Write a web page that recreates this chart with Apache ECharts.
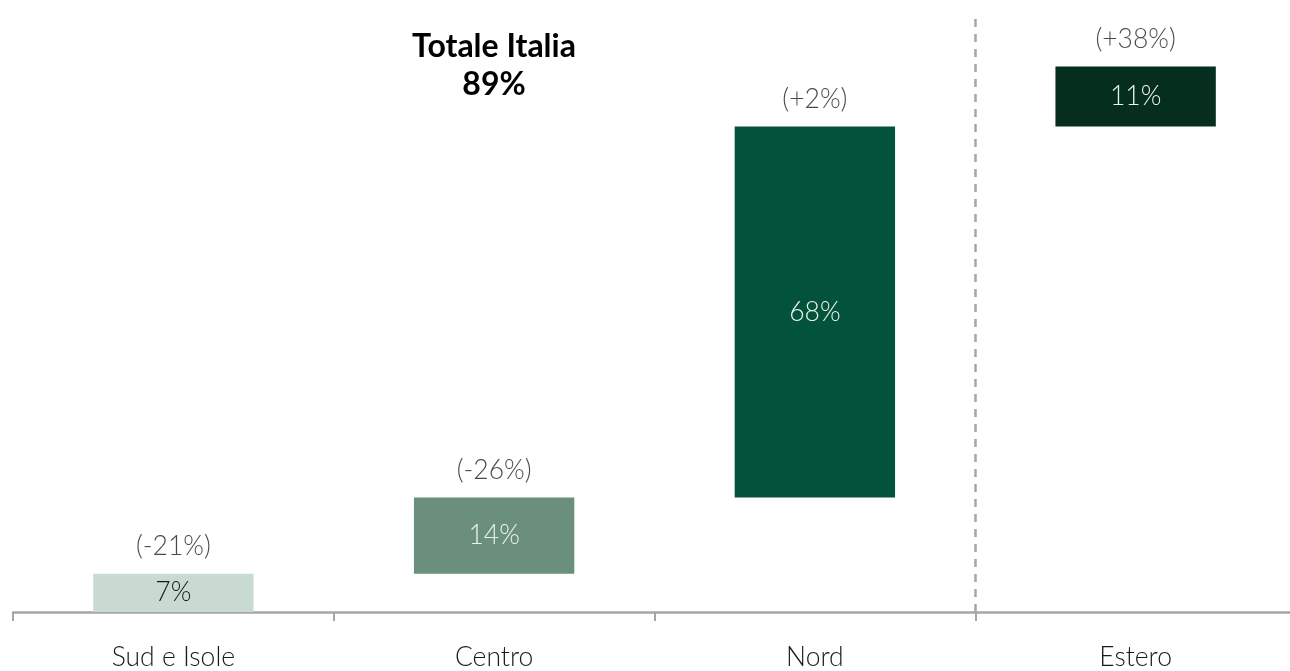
<!DOCTYPE html>
<html>
<head>
<meta charset="utf-8">
<script src="https://cdn.jsdelivr.net/npm/echarts@6/dist/echarts.min.js"></script>
<style>
  html, body { margin: 0; padding: 0; background: #fff; overflow: hidden; }
  #chart { width: 1296px; height: 671px; }
</style>
</head>
<body>
<div id="chart"></div>
<script>
// dati: quota per area, base cumulata e variazione
const categories = ['Sud e Isole', 'Centro', 'Nord', 'Estero'];
const shares = [7, 14, 68, 11];
const changes = ['(-21%)', '(-26%)', '(+2%)', '(+38%)'];
const barColors = ['#c9dad2', '#6a8f7c', '#03533b', '#052e1f'];
const insideTextColors = ['#1a1a1a', '#eef2ef', '#eef2ef', '#eef2ef'];
const totalLabel = ['Totale Italia', '89%'];
const separatorAt = 3; // confine tra Italia ed Estero (indice di banda)

// base invisibile della cascata
const bases = [];
let acc = 0;
shares.forEach(v => { bases.push(acc); acc += v; });
const tops = shares.map((v, i) => bases[i] + v);

const FONT = 'Lato';
const chart = echarts.init(document.getElementById('chart'));

const option = {
    backgroundColor: '#ffffff',
    animation: false,
    title: {
        text: totalLabel.join('\n'),
        left: 489, top: 23,
        textAlign: 'center',
        textStyle: { fontFamily: FONT, fontWeight: 'bold', fontSize: 32, lineHeight: 38, color: '#000' }
    },
    grid: { left: 13, right: 0, top: 12, bottom: 59 },
    xAxis: [
        {
            type: 'category',
            data: categories,
            axisLine: { lineStyle: { color: '#a6a6a6', width: 2.5 } },
            axisTick: { show: true, length: 9, lineStyle: { color: '#a6a6a6', width: 2 } },
            axisLabel: { fontFamily: FONT, fontWeight: 300, fontSize: 26.5, color: '#1a1a1a', margin: 32 },
            splitLine: { show: false }
        },
        // asse nascosto per posizionare il separatore tra le bande
        { type: 'value', min: 0, max: categories.length, show: false }
    ],
    yAxis: { type: 'value', min: 0, max: 110, show: false },
    series: [
        {
            type: 'bar', stack: 'w', barWidth: '50%',
            itemStyle: { color: 'transparent' },
            data: bases,
            silent: true
        },
        {
            type: 'bar', stack: 'w', barWidth: '50%',
            data: shares.map((v, i) => ({
                value: v,
                itemStyle: { color: barColors[i] },
                label: { color: insideTextColors[i] }
            })),
            label: {
                show: true, position: 'inside',
                fontFamily: FONT, fontWeight: 300, fontSize: 26.5,
                formatter: p => p.value + '%'
            }
        },
        {
            type: 'scatter', symbolSize: 0,
            data: tops,
            label: {
                show: true, position: 'top', distance: 14,
                fontFamily: FONT, fontWeight: 300, fontSize: 26.5, color: '#1a1a1a',
                formatter: p => changes[p.dataIndex]
            }
        },
        {
            type: 'line', xAxisIndex: 1, data: [], silent: true,
            markLine: {
                silent: true, symbol: 'none', label: { show: false },
                lineStyle: { color: '#a6a6a6', width: 2.5, type: [8, 7] },
                data: [{ xAxis: separatorAt }]
            }
        }
    ]
};
chart.setOption(option);
</script>
</body>
</html>
